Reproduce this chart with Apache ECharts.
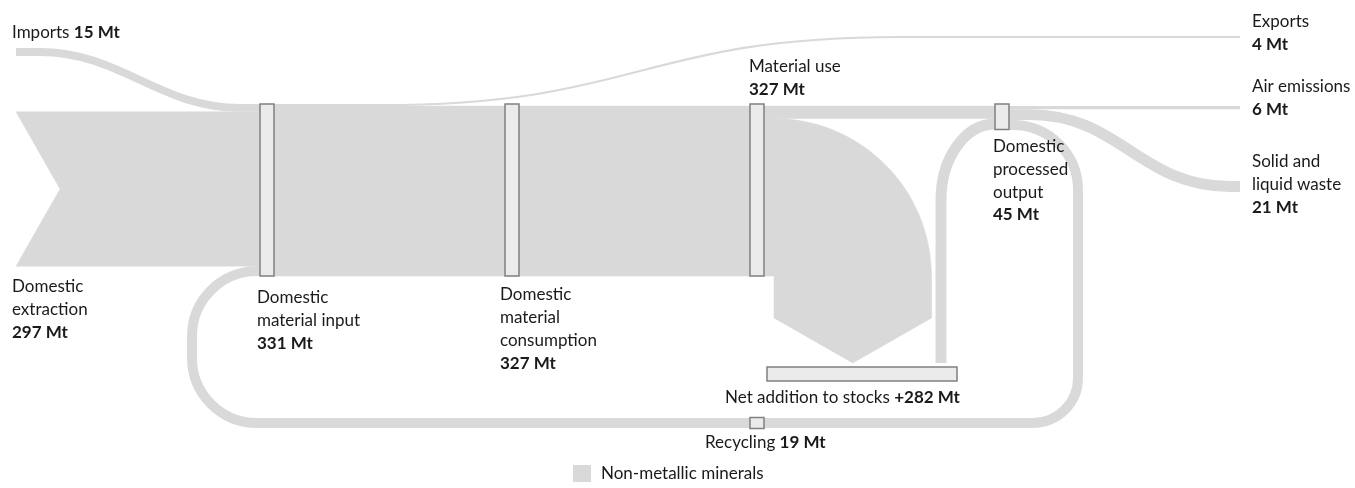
<!DOCTYPE html>
<html>
<head>
<meta charset="utf-8">
<script src="https://cdn.jsdelivr.net/npm/echarts@6.0.0/dist/echarts.min.js"></script>
<style>
  html, body { margin: 0; padding: 0; background: #fff; }
  #flowChart { width: 1355px; height: 488px; }
</style>
</head>
<body>
<div id="flowChart"></div>
<script>
// values in Mt, as printed on the chart
const stageNames = ['Imports', 'Domestic extraction', 'Domestic material input', 'Exports',
  'Domestic material consumption', 'Material use', 'Net addition to stocks',
  'Domestic processed output', 'Air emissions', 'Solid and liquid waste', 'Recycling'];
const stageValues = [15, 297, 331, 4, 327, 327, 282, 45, 6, 21, 19];
const stageValueText = ['15 Mt', '297 Mt', '331 Mt', '4 Mt', '327 Mt', '327 Mt', '+282 Mt', '45 Mt', '6 Mt', '21 Mt', '19 Mt'];
const stageLabelLines = [['Imports'], ['Domestic', 'extraction'], ['Domestic', 'material input'], ['Exports'],
  ['Domestic', 'material', 'consumption'], ['Material use'], ['Net addition to stocks'],
  ['Domestic', 'processed', 'output'], ['Air emissions'], ['Solid and', 'liquid waste'], ['Recycling']];
// flows without a label, read off the band widths
const hiddenFlowNames = ['Material use to output', 'Stocks to output'];
const hiddenFlowValues = [24, 21];

// ---- layout (grid covers the whole canvas, so layout units = px) ----
const K = 0.52;          // px per Mt
const NODE_W = 14;
const Y0 = 104;          // top of the main band
const KAPPA = 0.5523;
const X = { start: 16, dmi: 260, dmc: 505, use: 750, dpo: 995, end: 1240, loopL: 192, loopR: 1078, inner: 941 };
const Y = { imports: 52, exports: 37, arrowSide: 318, arrowTip: 363, bar: 367, bottom: 423, innerTurn: 200, wasteEnd: 186.5 };

const flowColor = '#d9d9d9';
const nodeFill = '#ebebeb';
const nodeLine = '#808080';
const textColor = '#1a1a1a';
const fontFamily = 'Lato';
const fontSize = 17;
const lineH = 22.7;

function val(name) { return stageValues[stageNames.indexOf(name)]; }
const imp = val('Imports'), ext = val('Domestic extraction'), dmi = val('Domestic material input');
const exp = val('Exports'), dmc = val('Domestic material consumption'), use = val('Material use');
const dpo = val('Domestic processed output'), air = val('Air emissions'), waste = val('Solid and liquid waste');
const rec = val('Recycling');
const useToDpo = hiddenFlowValues[0], stocksToDpo = hiddenFlowValues[1];
const useToStocks = use - useToDpo;

const Y1 = Y0 + exp * K;
const bandBot = Y0 + dmi * K;
const extTop = Y0 + imp * K;
const extBot = extTop + ext * K;
const ax = X.use + NODE_W + 10;
const R = useToStocks * K;
const uTop = Y1 + useToDpo * K;

function cornerC(x0, y0, x1, y1, vertFirst) {
  // quarter-ellipse from (x0,y0) to (x1,y1)
  return vertFirst
    ? ['C', x0, y0 + (y1 - y0) * KAPPA, x1 - (x1 - x0) * KAPPA, y1, x1, y1]
    : ['C', x0 + (x1 - x0) * KAPPA, y0, x1, y1 - (y1 - y0) * KAPPA, x1, y1];
}

const ci = Y0 + imp * K / 2;
const ce = Y0 + exp * K / 2;
const cs = uTop + stocksToDpo * K / 2;
const ca = Y1 + air * K / 2;
const cw = Y1 + air * K + waste * K / 2;
const cr = Y1 + (air + waste) * K + rec * K / 2;
const cd = extBot + rec * K / 2;
const rT = 65, rB = 45, rL = 65;

const flows = [
  { name: 'Domestic extraction', value: ext, fill: true, segs: [
    ['M', X.start, extTop], ['L', X.dmi, extTop], ['L', X.dmi, extBot], ['L', X.start, extBot],
    ['L', X.start + 44, (extTop + extBot) / 2], ['Z']] },
  { name: 'Imports', value: imp, segs: [
    ['M', X.start, Y.imports], ['L', 40, Y.imports], ['C', 120, Y.imports, 160, ci, 240, ci], ['L', X.dmi, ci]] },
  { name: 'Domestic material consumption', value: dmc, fill: true, segs: [
    ['M', X.dmi, Y1], ['L', X.use + NODE_W, Y1], ['L', X.use + NODE_W, bandBot], ['L', X.dmi, bandBot], ['Z']] },
  { name: 'Exports', value: exp, segs: [
    ['M', X.dmi + NODE_W, ce], ['L', 380, ce], ['C', 640, ce, 640, Y.exports, 900, Y.exports], ['L', X.end, Y.exports]] },
  { name: hiddenFlowNames[0], value: useToDpo, fill: true, segs: [
    ['M', X.use + NODE_W, Y1], ['L', X.dpo, Y1], ['L', X.dpo, uTop], ['L', X.use + NODE_W, uTop], ['Z']] },
  { name: 'Material use to stocks', value: useToStocks, fill: true, segs: [
    ['M', X.use + NODE_W, uTop], ['L', ax, uTop],
    ['C', ax + R * KAPPA, uTop, ax + R, bandBot - R * KAPPA, ax + R, bandBot],
    ['L', ax + R, Y.arrowSide], ['L', ax + R / 2, Y.arrowTip], ['L', ax, Y.arrowSide],
    ['L', ax, bandBot], ['L', X.use + NODE_W, bandBot], ['Z']] },
  { name: hiddenFlowNames[1], value: stocksToDpo, segs: [
    ['M', X.inner, Y.arrowTip], ['L', X.inner, Y.innerTurn], cornerC(X.inner, Y.innerTurn, X.dpo, cs, true)] },
  { name: 'Air emissions', value: air, segs: [['M', X.dpo + NODE_W, ca], ['L', X.end, ca]] },
  { name: 'Solid and liquid waste', value: waste, segs: [
    ['M', X.dpo + NODE_W, cw], ['L', 1030, cw], ['C', 1120, cw, 1140, Y.wasteEnd, 1230, Y.wasteEnd], ['L', X.end, Y.wasteEnd]] },
  { name: 'Recycling', value: rec, segs: [
    ['M', X.dpo + NODE_W, cr], ['L', X.loopR - rT, cr], cornerC(X.loopR - rT, cr, X.loopR, cr + rT, false),
    ['L', X.loopR, Y.bottom - rB], cornerC(X.loopR, Y.bottom - rB, X.loopR - rB, Y.bottom, true),
    ['L', X.loopL + rL, Y.bottom], cornerC(X.loopL + rL, Y.bottom, X.loopL, Y.bottom - rL, false),
    ['L', X.loopL, cd + rL], cornerC(X.loopL, cd + rL, X.loopL + rL, cd, true), ['L', X.dmi, cd]] }
];

const nodes = [
  { name: 'Domestic material input', x0: X.dmi, y0: Y0, x1: X.dmi + NODE_W, y1: Y0 + dmi * K },
  { name: 'Domestic material consumption', x0: X.dmc, y0: Y0, x1: X.dmc + NODE_W, y1: Y1 + dmc * K },
  { name: 'Material use', x0: X.use, y0: Y0, x1: X.use + NODE_W, y1: Y1 + use * K },
  { name: 'Domestic processed output', x0: X.dpo, y0: Y0, x1: X.dpo + NODE_W, y1: Y1 + dpo * K },
  { name: 'Recycling', x0: X.use, y0: Y.bottom - rec * K / 2 - 0.5, x1: X.use + NODE_W, y1: Y.bottom + rec * K / 2 + 0.5 },
  { name: 'Net addition to stocks', x0: ax - 7, y0: Y.bar, x1: X.inner + 16, y1: Y.bar + 14 }
];

// label anchors: [x, top, inline?]
const labelPos = [[12, 21.6, true], [12, 275.6], [257, 286.6], [1252, 10.3], [500, 283.6], [749, 55.3],
  [725, 386.6, true], [993, 135.3], [1252, 75.6], [1252, 150.6], [705, 431.6, true]];

function toPath(api, segs) {
  return segs.map(s => {
    const out = [s[0]];
    for (let i = 1; i < s.length; i += 2) {
      const q = api.coord([s[i], s[i + 1]]);
      out.push(q[0].toFixed(2), q[1].toFixed(2));
    }
    return out.join(' ');
  }).join(' ');
}

let myChart = echarts.init(document.getElementById('flowChart'));

const labelGraphics = stageNames.map((name, i) => {
  const pos = labelPos[i];
  const text = pos[2]
    ? stageLabelLines[i].join(' ') + ' {b|' + stageValueText[i] + '}'
    : stageLabelLines[i].join('\n') + '\n{b|' + stageValueText[i] + '}';
  return {
    type: 'text',
    x: pos[0],
    y: pos[1],
    z: 100,
    silent: true,
    style: {
      text: text,
      fill: textColor,
      fontFamily: fontFamily,
      fontSize: fontSize,
      lineHeight: lineH,
      verticalAlign: 'top',
      rich: {
        b: { fontFamily: fontFamily, fontSize: fontSize, fontWeight: 'bold', fill: textColor, lineHeight: lineH }
      }
    }
  };
});

myChart.setOption({
  animation: false,
  grid: { left: 0, right: 0, top: 0, bottom: 0 },
  xAxis: { type: 'value', min: 0, max: 1355, show: false },
  yAxis: { type: 'value', min: 0, max: 488, inverse: true, show: false },
  legend: {
    data: ['Non-metallic minerals'],
    left: 573,
    top: 465,
    padding: 0,
    icon: 'rect',
    itemWidth: 18,
    itemHeight: 17,
    selectedMode: false,
    textStyle: { fontFamily: fontFamily, fontSize: fontSize, color: textColor, padding: [0, 0, 0, 5] }
  },
  graphic: labelGraphics,
  series: [
    {
      name: 'Non-metallic minerals',
      type: 'custom',
      coordinateSystem: 'cartesian2d',
      itemStyle: { color: flowColor },
      silent: true,
      data: flows.map((f, i) => [i, 0]),
      renderItem: function (params, api) {
        const f = flows[params.dataIndex];
        const w = Math.abs(api.size([0, f.value * K])[1]);
        return {
          type: 'path',
          shape: { pathData: toPath(api, f.segs) },
          style: f.fill
            ? { fill: flowColor, stroke: flowColor, lineWidth: 0.5 }
            : { fill: 'none', stroke: flowColor, lineWidth: w, lineCap: 'butt' }
        };
      }
    },
    {
      name: 'nodes',
      type: 'custom',
      coordinateSystem: 'cartesian2d',
      silent: true,
      z: 3,
      data: nodes.map((n, i) => [i, 0]),
      renderItem: function (params, api) {
        const n = nodes[params.dataIndex];
        const a = api.coord([n.x0, n.y0]);
        const b = api.coord([n.x1, n.y1]);
        return {
          type: 'rect',
          shape: { x: a[0], y: a[1], width: b[0] - a[0], height: b[1] - a[1] },
          style: { fill: nodeFill, stroke: nodeLine, lineWidth: 1.5 }
        };
      }
    }
  ]
});

window.addEventListener('resize', () => {
  myChart.resize();
});
</script>
</body>
</html>
